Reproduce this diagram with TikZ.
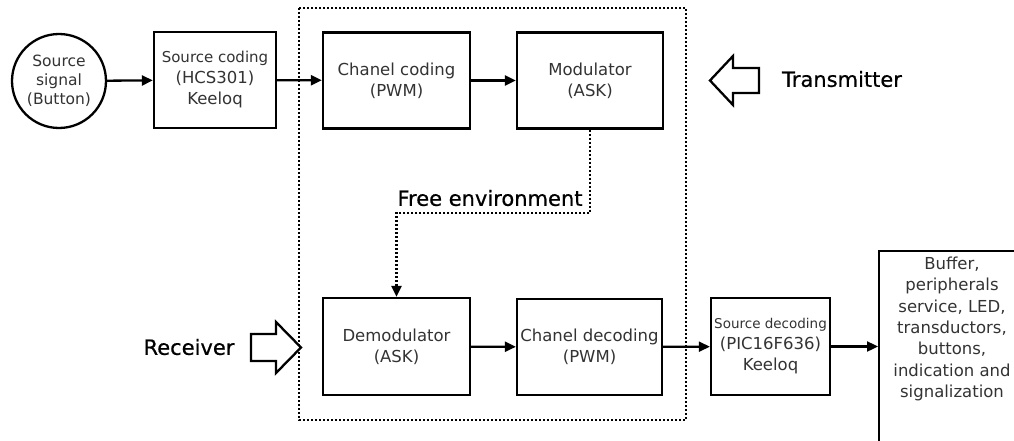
\documentclass[tikz,border=0pt]{standalone}
\usepackage{fontspec}
\setmainfont{DejaVu Sans}
\usetikzlibrary{arrows.meta,calc}
\begin{document}
\begin{tikzpicture}[x=1pt,y=-1pt,
  blk/.style={draw,line width=2.3pt,rectangle,inner sep=0pt,align=center,
    text=black!80,font=\fontsize{16.5}{21}\selectfont},
  lbl/.style={inner sep=0pt,font=\fontsize{21}{24}\selectfont\addfontfeature{FakeBold=0.6}},
  arr/.style={line width=2.3pt,-{Triangle[length=11pt,width=10pt]}},
  env/.style={line width=2.3pt,dash pattern=on 2pt off 2pt},
  hollow/.style={draw,line width=2.3pt,line join=miter,fill=white}]
\clip (0,0) rectangle (1014,441);
\fill[white] (0,0) rectangle (1014,441);
% free environment region
\draw[env] (299,8) rectangle (686,420);
% nodes
\node[blk,circle,minimum size=94pt,font=\fontsize{15.5}{19}\selectfont] (src) at (59,81) {Source\\signal\\(Button)};
\node[blk,minimum width=122pt,minimum height=96pt] (scod) at (215,80)
  {{\fontsize{15}{20}\selectfont Source coding}\\(HCS301)\\Keeloq};
\node[blk,minimum width=147pt,minimum height=96pt] (chc) at (396.5,80.5) {Chanel coding\\(PWM)};
\node[blk,minimum width=146pt,minimum height=96pt] (mod) at (590,80.5) {Modulator\\(ASK)};
\node[blk,minimum width=147pt,minimum height=97pt] (demod) at (396.5,346.5) {Demodulator\\(ASK)};
\node[blk,minimum width=145pt,minimum height=96pt] (chd) at (589.5,347) {Chanel decoding\\(PWM)};
\node[blk,minimum width=119pt,minimum height=97pt] (sdec) at (770.5,346.5)
  {{\fontsize{13.5}{19}\selectfont Source decoding}\\(PIC16F636)\\Keeloq};
\node[blk,minimum width=150pt,minimum height=260pt,anchor=north west] (buf) at (878,250) {};
\node[align=center,text=black!80,font=\fontsize{16.5}{21.3}\selectfont,inner sep=0pt] (buftxt) at (952,329)
  {Buffer,\\peripherals\\service, LED,\\transductors,\\buttons,\\indication and\\signalization};
% labels
\node[lbl] (fetxt) at (490,198) {Free environment};
\node[lbl] (tx) at (842,79) {Transmitter};
\node[lbl] (rx) at (189,347) {Receiver};
% connectors
\draw[arr] (src) -- (scod);
\draw[arr] (scod) -- (chc);
\draw[arr] (chc) -- (mod);
\draw[arr] (demod) -- (chd);
\draw[arr] (chd) -- (sdec);
\draw[arr] (sdec) -- (sdec -| buf.west);
\coordinate (fe) at (396.5,213);
\draw[env,-{Triangle[length=11pt,width=10pt]}] (mod.south) |- (fe) -- (demod.north);
% hollow arrows
\draw[hollow] (710,80.5) -- (733,56) -- (733,68) -- (759,68) -- (759,93) -- (733,93) -- (733,105) -- cycle;
\draw[hollow] (301,347.5) -- (276,322) -- (276,334) -- (251,334) -- (251,361) -- (276,361) -- (276,373) -- cycle;
\end{tikzpicture}
\end{document}
